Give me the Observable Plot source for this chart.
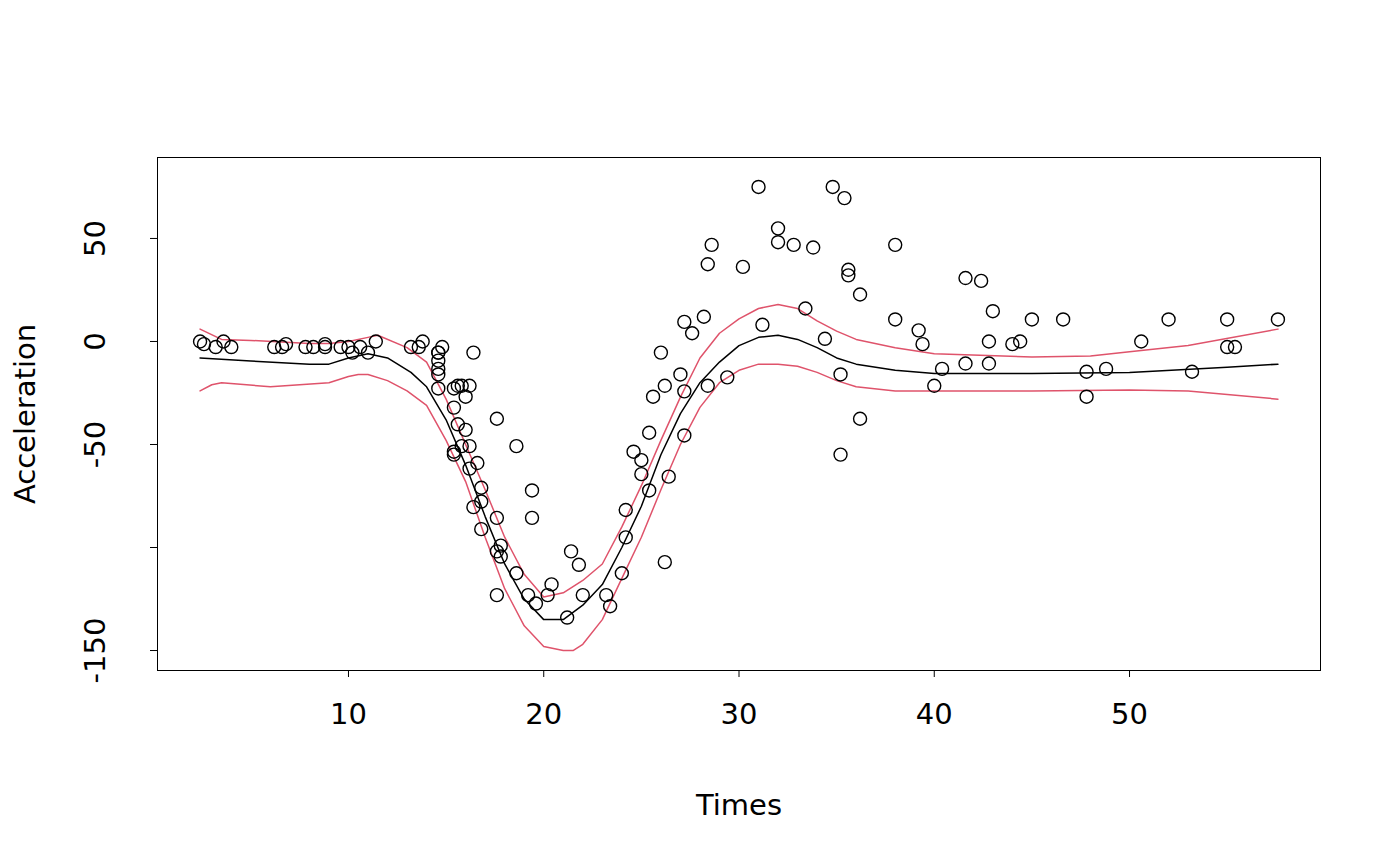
<!DOCTYPE html>
<html><head>
<script src="https://cdn.jsdelivr.net/npm/d3@7"></script>
<script src="https://cdn.jsdelivr.net/npm/@observablehq/plot@0.6"></script>
<style>body{margin:0;background:#fff}</style>
</head><body><div id="c"></div>
<script>
const times=[2.4,2.6,3.2,3.6,4.0,6.2,6.6,6.8,7.8,8.2,8.8,8.8,9.6,10.0,10.2,10.6,11.0,11.4,13.2,13.6,13.8,14.6,14.6,14.6,14.6,14.6,14.6,14.8,15.4,15.4,15.4,15.4,15.6,15.6,15.8,15.8,16.0,16.0,16.2,16.2,16.2,16.4,16.4,16.6,16.8,16.8,16.8,17.6,17.6,17.6,17.6,17.8,17.8,18.6,18.6,19.2,19.4,19.4,19.6,20.2,20.4,21.2,21.4,21.8,22.0,23.2,23.4,24.0,24.2,24.2,24.6,25.0,25.0,25.4,25.4,25.6,26.0,26.2,26.2,26.4,27.0,27.2,27.2,27.2,27.6,28.2,28.4,28.4,28.6,29.4,30.2,31.0,31.2,32.0,32.0,32.8,33.4,33.8,34.4,34.8,35.2,35.2,35.4,35.6,35.6,36.2,36.2,38.0,38.0,39.2,39.4,40.0,40.4,41.6,41.6,42.4,42.8,42.8,43.0,44.0,44.4,45.0,46.6,47.8,47.8,48.8,50.6,52.0,53.2,55.0,55.0,55.4,57.6];
const accel=[0.0,-1.3,-2.7,0.0,-2.7,-2.7,-2.7,-1.3,-2.7,-2.7,-1.3,-2.7,-2.7,-2.7,-5.4,-2.7,-5.4,0.0,-2.7,-2.7,0.0,-13.3,-5.4,-5.4,-9.3,-16.0,-22.8,-2.7,-22.8,-32.1,-53.5,-54.9,-40.2,-21.5,-21.5,-50.8,-42.9,-26.8,-21.5,-50.8,-61.7,-5.4,-80.4,-59.0,-71.0,-91.1,-77.7,-37.5,-85.6,-123.1,-101.9,-99.1,-104.4,-112.5,-50.8,-123.1,-85.6,-72.3,-127.2,-123.1,-117.9,-134.0,-101.9,-108.4,-123.1,-123.1,-128.5,-112.5,-95.1,-81.8,-53.5,-64.4,-57.6,-72.3,-44.3,-26.8,-5.4,-107.1,-21.5,-65.6,-16.0,-45.6,-24.2,9.5,4.0,12.0,-21.5,37.5,46.9,-17.4,36.2,75.0,8.1,54.9,48.2,46.9,16.0,45.6,1.3,75.0,-16.0,-54.9,69.6,34.8,32.1,-37.5,22.8,46.9,10.7,5.4,-1.3,-21.5,-13.3,30.8,-10.7,29.4,0.0,-10.7,14.7,-1.3,0.0,10.7,10.7,-26.8,-14.7,-13.3,0.0,10.7,-14.7,-2.7,10.7,-2.7,10.7];
const fitX=[2.4,5,8,9,10,11,12,13.2,14,15,16,17,18,19,20,21,22,23,24,25,26,27,28,29,30,31,32,33,34,35,36,38,40,45,50,55,57.6];
const fitY=[-8,-9.5,-11,-11,-8,-6,-8,-15,-22,-38,-60,-85,-108,-125,-135,-135,-128,-118,-100,-80,-55,-35,-20,-10,-2,2,3,1,-3,-8,-11,-14,-15.5,-15.5,-15,-12.5,-11];
const upX=[2.4,3.5,5,8,9,10,11,11.5,13,14,15,16,17,18,19,20,21,22,23,24,25,26,27,28,29,30,31,32,33,34,35,36,38,40,45,48,50,53,57.6];
const upY=[6,1,0.5,-1,-1,0,2,3,-3,-10,-28,-50,-72,-95,-113,-124,-122,-116,-108,-90,-70,-48,-27,-8,4,11,16,18,16,10,5,1,-3,-6,-7.5,-7,-5,-2,6];
const loX=[2.4,3,3.5,6,9,10,10.5,11,12,13,14,15,16,17,18,19,20,21,21.5,22,23,24,25,26,27,28,29,30,31,32,33,34,35,36,38,45,50,53,57.6];
const loY=[-24,-21,-20,-22,-20,-17,-16,-16,-19,-24,-31,-48,-68,-95,-120,-138,-148,-150,-150,-147,-135,-115,-95,-72,-50,-32,-20,-14,-11,-11,-12,-15,-19,-22,-24,-24,-23.5,-24,-28];
const xTicks=[10,20,30,40,50], yTicks=[-150,-100,-50,0,50], yLabels=["-150","","-50","0","50"];
const pts=times.map((t,i)=>({t,a:accel[i]}));
const line=(xs,ys)=>xs.map((x,i)=>({x,y:ys[i]}));
const fs=29;
const chart=Plot.plot({
  width:1400,height:866,marginLeft:157,marginRight:80,marginTop:157,marginBottom:196,
  x:{domain:[0.22,59.78]},y:{domain:[-159.7,89.3]},
  style:{fontFamily:"DejaVu Sans",color:"black"},
  marks:[
    Plot.frame({stroke:"black"}),
    Plot.axisX(xTicks,{tickSize:7,tickPadding:26,label:null,fontSize:fs}),
    Plot.axisY(yTicks,{tickSize:7,tickFormat:()=>"",label:null}),
    Plot.text(yTicks,{y:d=>d,text:(d,i)=>yLabels[i],frameAnchor:"left",textAnchor:"middle",dx:-62,rotate:-90,fontSize:fs}),
    Plot.text(["Times"],{frameAnchor:"bottom",dy:144,fontSize:fs}),
    Plot.text(["Acceleration"],{frameAnchor:"left",textAnchor:"middle",dx:-132,rotate:-90,fontSize:fs}),
    Plot.line(line(upX,upY),{x:"x",y:"y",stroke:"#DF536B",strokeWidth:1.5}),
    Plot.line(line(loX,loY),{x:"x",y:"y",stroke:"#DF536B",strokeWidth:1.5}),
    Plot.line(line(fitX,fitY),{x:"x",y:"y",stroke:"black",strokeWidth:1.5}),
    Plot.dot(pts,{x:"t",y:"a",r:6.5,stroke:"black",strokeWidth:1.4})
  ]
});
document.getElementById("c").append(chart);
</script></body></html>
